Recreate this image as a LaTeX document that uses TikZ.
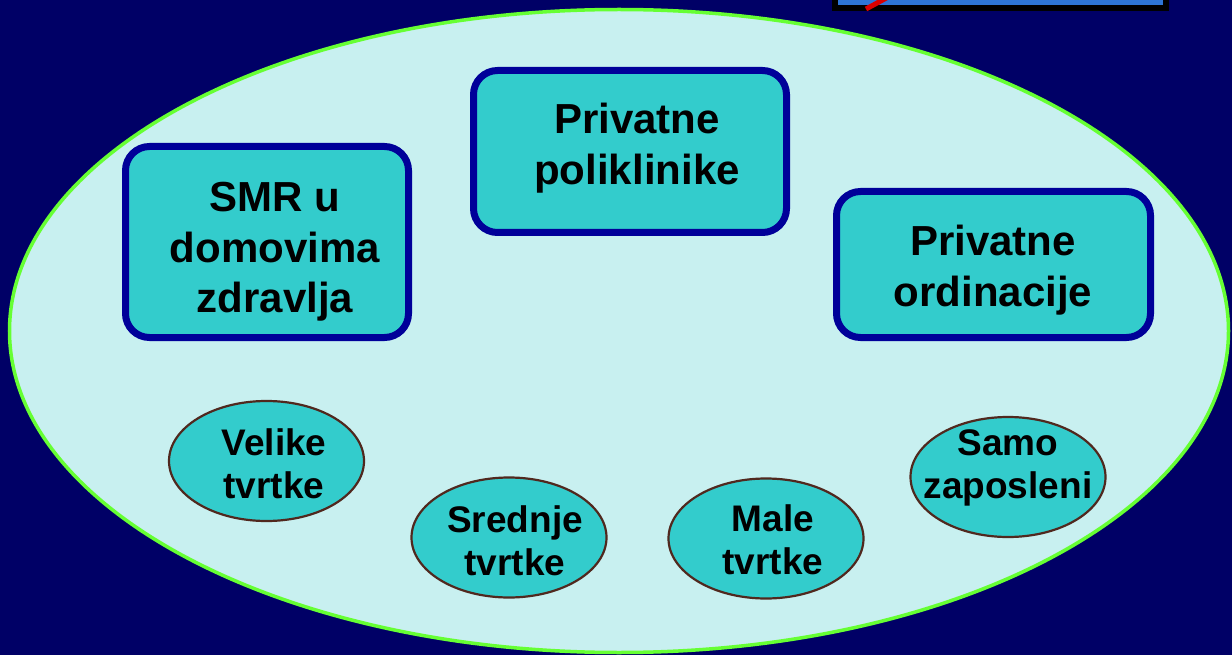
\documentclass[tikz,border=0pt]{standalone}
\usepackage{fontspec}
\setmainfont{Liberation Sans}
\usetikzlibrary{shapes.geometric}
\definecolor{navybg}{RGB}{0,0,102}
\definecolor{paleC}{RGB}{200,240,240}
\definecolor{greenB}{RGB}{102,255,51}
\definecolor{tealF}{RGB}{51,204,204}
\definecolor{boxB}{RGB}{0,0,153}
\definecolor{brownB}{RGB}{80,40,30}
\definecolor{topblue}{RGB}{46,117,214}
\tikzset{
  bigbox/.style={draw=boxB, line width=7pt, fill=tealF, rounded corners=24pt, inner sep=0pt},
  smallell/.style={ellipse, draw=brownB, line width=2.2pt, fill=tealF, inner sep=0pt, minimum width=195pt, minimum height=120pt},
  boxtxt/.style={align=center, font=\bfseries\fontsize{42}{50.5}\selectfont, text=black},
  elltxt/.style={align=center, font=\bfseries\fontsize{37}{43.5}\selectfont, text=black}
}
\begin{document}
\begin{tikzpicture}[x=1pt,y=-1pt]
\fill[navybg] (0,0) rectangle (1232,655);
\useasboundingbox (0,0) rectangle (1232,655);
% top-right fragment
\draw[black, line width=6pt, fill=topblue] (835,-20) rectangle (1166,8);
\coordinate (rs) at (866,9);
\coordinate (re) at (890,-4);
\draw[red!85!black, line width=5pt] (rs) -- (re);
% big ellipse
\draw[greenB, line width=3.5pt, fill=paleC] (619,331) ellipse [x radius=609.5pt, y radius=321.5pt];
% boxes
\node[bigbox, minimum width=283pt, minimum height=191pt] (smr) at (267,242) {};
\node[boxtxt] (smrt) at (275,252) {SMR u\\domovima\\zdravlja};
\node[bigbox, minimum width=313pt, minimum height=162pt] (pol) at (630,151.5) {};
\node[boxtxt] (polt) at (637,148) {Privatne\\poliklinike};
\node[bigbox, minimum width=314pt, minimum height=146pt] (ord) at (993.5,264.5) {};
\node[boxtxt] (ordt) at (993,270) {Privatne\\ordinacije};
% ellipses
\node[smallell] (vel) at (266.5,461) {};
\node[elltxt] (velt) at (274,464) {Velike\\tvrtke};
\node[smallell] (sred) at (509,537.5) {};
\node[elltxt] (sredt) at (515,541) {Srednje\\tvrtke};
\node[smallell] (male) at (766,538.5) {};
\node[elltxt] (malet) at (773,540) {Male\\tvrtke};
\node[smallell] (samo) at (1008,477) {};
\node[elltxt] (samot) at (1008,468) {Samo\\zaposleni};
\end{tikzpicture}
\end{document}
